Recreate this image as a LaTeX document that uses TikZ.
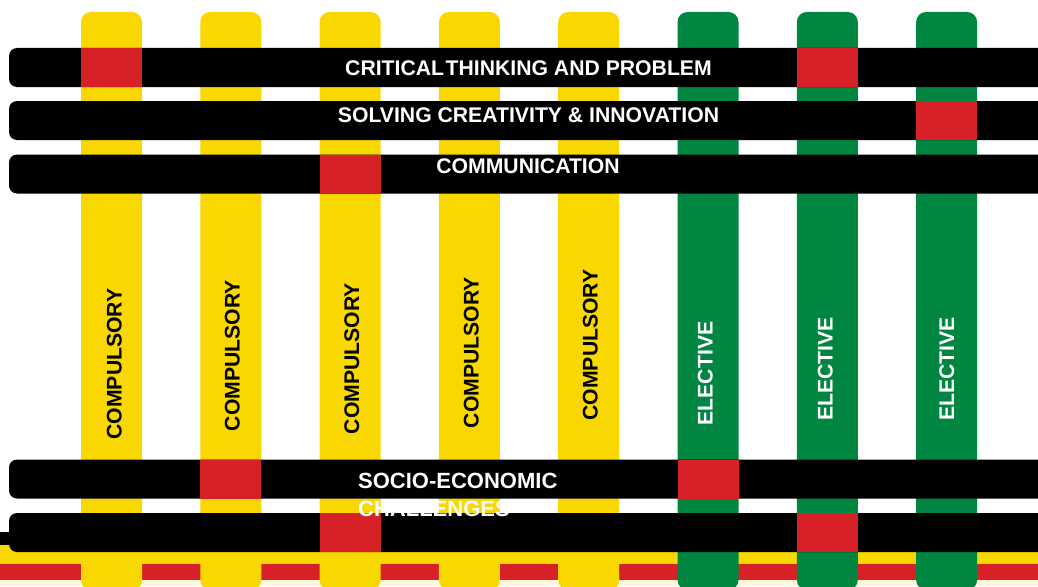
\documentclass[tikz,border=0pt]{standalone}
\usepackage{fontspec}
\setmainfont{Liberation Sans}
\definecolor{postyellow}{HTML}{F8D800}
\definecolor{postgreen}{HTML}{008641}
\definecolor{hitred}{HTML}{D82027}
\definecolor{cream}{HTML}{FFF8DC}

\begin{document}
\begin{tikzpicture}[
  x=1pt, y=-1pt,
  post/.style={rounded corners=10pt, minimum width=61pt, minimum height=578pt, inner sep=0pt},
  beam/.style={fill=black, rounded corners=8pt, minimum width=1060pt, minimum height=39pt, inner sep=0pt},
  hit/.style={fill=hitred, minimum width=61pt, minimum height=39pt, inner sep=0pt},
  caption/.style={font=\bfseries\fontsize{21.2}{28}\selectfont, inner sep=0pt, text height=15pt, text depth=0pt}
]
  \useasboundingbox (0,0) rectangle (1038,586);
  \clip (0,0) rectangle (1038,586);

  % stripes along the bottom
  \fill[postyellow] (0,545) rectangle (1038,564);
  \fill[hitred] (0,564) rectangle (1038,580);
  \fill[cream] (0,580) rectangle (1038,586);

  % the eight posts
  \foreach \i/\c in {1/postyellow, 2/postyellow, 3/postyellow, 4/postyellow,
                     5/postyellow, 6/postgreen, 7/postgreen, 8/postgreen}
    \node[post, fill=\c] (col\i) at ({111.5+119.3*(\i-1)}, 301) {};

  % the five beams
  \fill (0,532) rectangle (12,545);
  \foreach \i/\y in {1/67.5, 2/120.5, 3/174, 4/479, 5/532.5}
    \node[beam] (bar\i) at (539, \y) {};

  % crossings
  \foreach \c/\b in {1/1, 7/1, 8/2, 3/3, 2/4, 6/4, 3/5, 7/5}
    \node[hit] (hit\c\b) at (col\c |- bar\b) {};

  % beam texts
  \node[caption, white] (t1) at (528.5, 67.5) {CRITICAL\kern1.5pt THINKING AND PROBLEM};
  \node[caption, white] (t2) at (528.5, 115) {SOLVING CREATIVITY \& INNOVATION};
  \node[caption, white] (t3) at (528, 165.5) {COMMUNICATION};
  \node[font=\bfseries\fontsize{22}{28}\selectfont, white, align=left, anchor=base west, inner sep=0pt]
    (t4) at (358, 516) {SOCIO-ECONOMIC\\CHALLENGES};

  % post texts
  \foreach \i/\x/\y in {1/114/364, 2/232/355.5, 3/351.5/358.5, 4/471/352.5, 5/590/345}
    \node[caption, rotate=90] (c\i) at (\x, \y) {COMPULSORY};
  \foreach \i/\x/\y in {6/705/373.5, 7/825/369, 8/946.5/369}
    \node[caption, white, rotate=90] (c\i) at (\x, \y) {ELECTIVE};
\end{tikzpicture}
\end{document}
